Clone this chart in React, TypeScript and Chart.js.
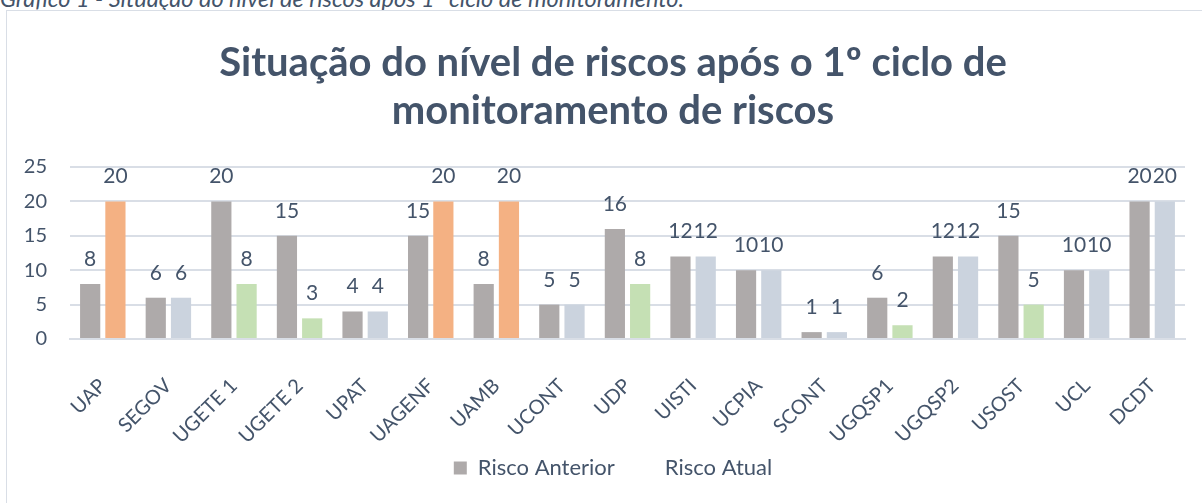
import React, { useEffect, useRef } from "react";
import { Chart, registerables } from "chart.js";

Chart.register(...registerables);

const categories = ["UAP", "SEGOV", "UGETE 1", "UGETE 2", "UPAT", "UAGENF", "UAMB", "UCONT", "UDP", "UISTI", "UCPIA", "SCONT", "UGQSP1", "UGQSP2", "USOST", "UCL", "DCDT"];
const riscoAnterior = [8, 6, 20, 15, 4, 15, 8, 5, 16, 12, 10, 1, 6, 12, 15, 10, 20];
const riscoAtual = [20, 6, 8, 3, 4, 20, 20, 5, 8, 12, 10, 1, 2, 12, 5, 10, 20];
const yTicks = [0, 5, 10, 15, 20, 25];
const titleLines = ["Situação do nível de riscos após o 1º ciclo de", "monitoramento de riscos"];
const captionText = "Gráfico 1 - Situação do nível de riscos após 1º ciclo de monitoramento.";
const seriesNames = ["Risco Anterior", "Risco Atual"];

const TEXT = "#44546A";
const GRID = "#D9DEE6";
const GRAY = "#AEAAAA";
const ORANGE = "#F4B183";
const GREEN = "#C5E0B4";
const BLUEGRAY = "#CBD3DE";
const FONT = "Lato, 'Open Sans', sans-serif";

const atualColors = riscoAtual.map((v, i) =>
  v > riscoAnterior[i] ? ORANGE : v < riscoAnterior[i] ? GREEN : BLUEGRAY
);

const dataLabels = {
  id: "dataLabels",
  afterDatasetsDraw(chart: any) {
    const ctx = chart.ctx;
    ctx.save();
    ctx.font = `21px ${FONT}`;
    ctx.fillStyle = TEXT;
    ctx.textAlign = "center";
    ctx.textBaseline = "alphabetic";
    chart.data.datasets.forEach((ds: any, di: number) => {
      const meta = chart.getDatasetMeta(di);
      meta.data.forEach((el: any, i: number) => {
        ctx.fillText(String(ds.data[i]), el.x, el.y - 18);
      });
    });
    ctx.restore();
  },
};

const noClip = (s: any) => {
  s._computeLabelArea = () => undefined;
};

export default function App() {
  const ref = useRef<HTMLCanvasElement>(null);
  useEffect(() => {
    if (!ref.current) return;
    const chart = new Chart(ref.current, {
      type: "bar",
      data: {
        labels: categories,
        datasets: [
          { label: seriesNames[0], data: riscoAnterior, backgroundColor: GRAY, barPercentage: 0.8, categoryPercentage: 0.77 },
          { label: seriesNames[1], data: riscoAtual, backgroundColor: atualColors, barPercentage: 0.8, categoryPercentage: 0.77 },
        ],
      },
      options: {
        animation: false,
        responsive: false,
        maintainAspectRatio: false,
        layout: { padding: { left: 34, right: 17, top: 0, bottom: 14 } },
        plugins: {
          tooltip: { enabled: false },
          title: {
            display: true,
            text: titleLines,
            color: TEXT,
            font: { family: FONT, size: 40, weight: "bold", lineHeight: 48 / 40 },
            padding: { top: 28, bottom: 32 },
          },
          legend: {
            position: "bottom",
            labels: {
              color: TEXT,
              font: { family: FONT, size: 22 },
              boxWidth: 13,
              boxHeight: 13,
              padding: 26,
              generateLabels: () => [
                { text: seriesNames[0], fillStyle: GRAY, strokeStyle: GRAY, lineWidth: 0, hidden: false, datasetIndex: 0, fontColor: TEXT },
                { text: seriesNames[1], fillStyle: "rgba(0,0,0,0)", strokeStyle: "rgba(0,0,0,0)", lineWidth: 0, hidden: false, datasetIndex: 1, fontColor: TEXT },
              ],
            },
          },
        },
        scales: {
          x: {
            grid: { display: false },
            border: { color: GRID, width: 2 },
            ticks: { color: TEXT, font: { family: FONT, size: 20 }, minRotation: 45, maxRotation: 45, padding: 27, labelOffset: 0 },
            afterFit: (s: any) => { s.height = 92; noClip(s); },
          },
          y: {
            min: 0,
            max: 25,
            afterBuildTicks: (s: any) => { s.ticks = yTicks.map((v) => ({ value: v })); },
            grid: { color: GRID, lineWidth: 2, drawTicks: false },
            border: { display: false },
            ticks: { color: TEXT, font: { family: FONT, size: 20 }, padding: 23 },
            afterFit: (s: any) => { s.width = 29; noClip(s); },
          },
        },
      },
      plugins: [dataLabels],
    });
    return () => chart.destroy();
  }, []);

  return (
    <div style={{ position: "absolute", left: 0, top: 0, width: 1202, height: 503, overflow: "hidden", background: "#fff" }}>
      <div
        style={{
          position: "absolute",
          left: 0,
          top: -16,
          fontFamily: FONT,
          fontStyle: "italic",
          fontSize: 23.5,
          lineHeight: "28px",
          color: TEXT,
          whiteSpace: "nowrap",
        }}
      >
        {captionText}
      </div>
      <div style={{ position: "absolute", left: 6, top: 10, width: 1300, height: 600, border: `1px solid ${GRID}`, boxSizing: "border-box", background: "#fff" }} />
      <canvas ref={ref} width={1195} height={492} style={{ position: "absolute", left: 7, top: 11, width: 1195, height: 492 }} />
    </div>
  );
}
